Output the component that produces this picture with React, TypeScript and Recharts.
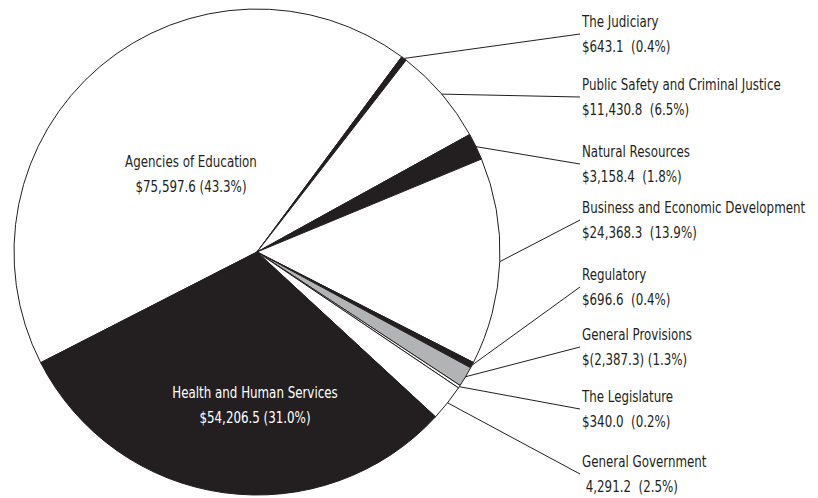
import React from "react"
import { PieChart, Pie, Cell } from "recharts"

// slices clockwise, starting at the Education / Health boundary
const categories = [
  "Agencies of Education",
  "The Judiciary",
  "Public Safety and Criminal Justice",
  "Natural Resources",
  "Business and Economic Development",
  "Regulatory",
  "General Provisions",
  "The Legislature",
  "General Government",
  "Health and Human Services",
]

// slice size (General Provisions is a negative amount, drawn by its size)
const amounts = [75597.6, 643.1, 11430.8, 3158.4, 24368.3, 696.6, 2387.3, 340.0, 4291.2, 54206.5]

const amountLabels = [
  "$75,597.6 (43.3%)",
  "$643.1  (0.4%)",
  "$11,430.8  (6.5%)",
  "$3,158.4  (1.8%)",
  "$24,368.3  (13.9%)",
  "$696.6  (0.4%)",
  "$(2,387.3) (1.3%)",
  "$340.0  (0.2%)",
  " 4,291.2  (2.5%)",
  "$54,206.5 (31.0%)",
]

const INK = "#231f20"
const GREY = "#b2b3b5"
const sliceFills = ["#ffffff", INK, "#ffffff", INK, "#ffffff", INK, GREY, "#ffffff", "#ffffff", INK]

const data = categories.map((name, i) => ({ name, value: amounts[i], label: amountLabels[i] }))

const FONT = "'DejaVu Sans Condensed', 'DejaVu Sans', sans-serif"
const RADIAN = Math.PI / 180
const SQUEEZE = 0.88

const textStyle: React.CSSProperties = { whiteSpace: "pre", fontStretch: "condensed" }

// condensed text drawn at (x, y), squeezed a little more horizontally
function Label({ x, y, anchor = "start", color = INK, children }: any) {
  return (
    <text
      transform={`translate(${x},${y}) scale(${SQUEEZE},1)`}
      textAnchor={anchor}
      fill={color}
      fontSize={15}
      fontFamily={FONT}
      style={textStyle}
    >
      {children}
    </text>
  )
}

// label placement: inside labels are offsets from the centre, side labels are title baselines
const SIDE_X = 574
const layout: ({ inside: true; dx: number; dy: number; color: string } | { inside: false; y: number })[] = [
  { inside: true, dx: -66, dy: -85, color: INK },
  { inside: false, y: 19 },
  { inside: false, y: 82 },
  { inside: false, y: 149 },
  { inside: false, y: 205 },
  { inside: false, y: 272 },
  { inside: false, y: 332 },
  { inside: false, y: 394 },
  { inside: false, y: 459 },
  { inside: true, dx: -2, dy: 146, color: "#ffffff" },
]

function renderLabel(props: any) {
  const { cx, cy, midAngle, outerRadius, index, payload } = props
  const spot = layout[index]
  const name = payload?.name ?? categories[index]
  const amount = payload?.label ?? amountLabels[index]
  if (spot.inside) {
    return (
      <g key={`lbl-${index}`}>
        <Label x={cx + spot.dx} y={cy + spot.dy} anchor="middle" color={spot.color}>
          {name}
        </Label>
        <Label x={cx + spot.dx} y={cy + spot.dy + 25} anchor="middle" color={spot.color}>
          {amount}
        </Label>
      </g>
    )
  }
  const sx = cx + outerRadius * Math.cos(-midAngle * RADIAN)
  const sy = cy + outerRadius * Math.sin(-midAngle * RADIAN)
  return (
    <g key={`lbl-${index}`}>
      <line x1={sx} y1={sy} x2={SIDE_X - 2} y2={spot.y + 7} stroke={INK} strokeWidth={1} />
      <Label x={SIDE_X} y={spot.y}>
        {name}
      </Label>
      <Label x={SIDE_X} y={spot.y + 25}>
        {amount}
      </Label>
    </g>
  )
}

export default function App() {
  return (
    <PieChart width={810} height={490} margin={{ top: 0, right: 0, bottom: 0, left: 0 }}>
      <Pie
        data={data}
        dataKey="value"
        nameKey="name"
        cx={249}
        cy={244}
        outerRadius={243}
        startAngle={207.1}
        endAngle={-152.9}
        stroke={INK}
        strokeWidth={1}
        label={renderLabel}
        labelLine={false}
        isAnimationActive={false}
      >
        {data.map((d, i) => (
          <Cell key={d.name} fill={sliceFills[i]} />
        ))}
      </Pie>
    </PieChart>
  )
}
